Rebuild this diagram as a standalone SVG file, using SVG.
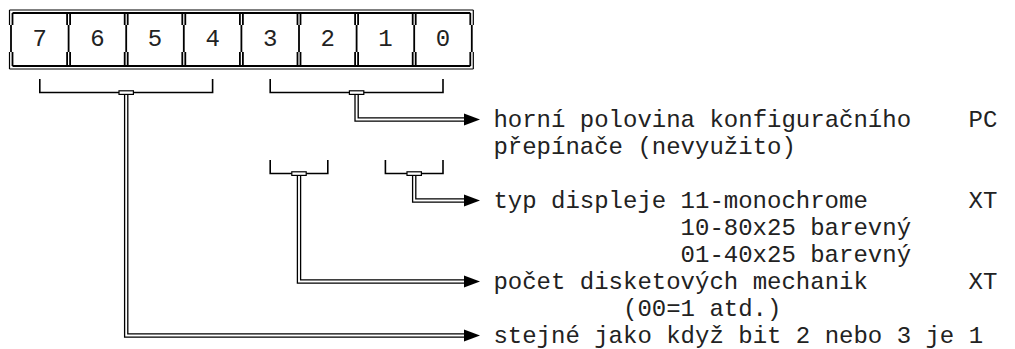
<svg xmlns="http://www.w3.org/2000/svg" width="1015" height="349" viewBox="0 0 1015 349">
<style>
.o{stroke:#000;stroke-width:1.2;fill:none}
.i{stroke:#000;stroke-width:1.8;fill:none}
.s{stroke:#000;stroke-width:1.6;fill:none}
.d{stroke:#000;stroke-width:1.3;fill:none}
.bar{stroke:#000;stroke-width:1.2;fill:#fff}
.ah{fill:#000}
.t{font-family:"Liberation Mono","Courier New",monospace;font-size:24px;fill:#222}
.c{text-anchor:middle}
</style>
<rect width="1015" height="349" fill="#fff"/>
<g id="register">
<path class="o" d="M9.5,10H473.3M9.5,69H473.3M9.5,10V25M9.5,52V69M473.3,10V25M473.3,52V69"/>
<path class="i" d="M12.5,13H470.3M12.5,66H470.3M12.5,13V25M12.5,52V66M470.3,13V25M470.3,52V66M11,25V52M471.8,25V52"/>
<path class="i" d="M67.1,13V25M70.1,13V25M68.6,25V52M67.1,52V66M70.1,52V66
M124.7,13V25M127.7,13V25M126.2,25V52M124.7,52V66M127.7,52V66
M182.3,13V25M185.3,13V25M183.8,25V52M182.3,52V66M185.3,52V66
M239.9,13V25M242.9,13V25M241.4,25V52M239.9,52V66M242.9,52V66
M297.5,13V25M300.5,13V25M299,25V52M297.5,52V66M300.5,52V66
M355.1,13V25M358.1,13V25M356.6,25V52M355.1,52V66M358.1,52V66
M412.7,13V25M415.7,13V25M414.2,25V52M412.7,52V66M415.7,52V66"/>
<text class="t c" x="39.8" y="46">7</text>
<text class="t c" x="97.4" y="46">6</text>
<text class="t c" x="155" y="46">5</text>
<text class="t c" x="212.6" y="46">4</text>
<text class="t c" x="270.2" y="46">3</text>
<text class="t c" x="327.8" y="46">2</text>
<text class="t c" x="385.4" y="46">1</text>
<text class="t c" x="443" y="46">0</text>
</g>
<g id="connectors">
<path class="s" d="M39.8,79V92.5H212.6V79M270.2,79V92.5H443V79M270.2,160V173.5H327.8V160M385.4,160V173.5H443V160"/>
<rect class="bar" x="119" y="90.8" width="14.4" height="3.6"/>
<rect class="bar" x="349.4" y="90.8" width="14.4" height="3.6"/>
<rect class="bar" x="291.8" y="171.8" width="14.4" height="3.6"/>
<rect class="bar" x="407" y="171.8" width="14.4" height="3.6"/>
<path class="d" d="M124.6,94.4V337.1H465M127.8,94.4V333.9H465"/>
<path class="d" d="M355,94.4V121.1H465M358.2,94.4V117.9H465"/>
<path class="d" d="M297.4,175.4V283.1H465M300.6,175.4V279.9H465"/>
<path class="d" d="M412.6,175.4V202.1H465M415.8,175.4V198.9H465"/>
<polygon class="ah" points="464,113.5 480,119.5 464,125.5"/>
<polygon class="ah" points="464,194.5 480,200.5 464,206.5"/>
<polygon class="ah" points="464,275.5 480,281.5 464,287.5"/>
<polygon class="ah" points="464,329.5 480,335.5 464,341.5"/>
</g>
<g id="labels">
<text class="t" x="493.4" y="126.5">horní polovina konfiguračního</text>
<text class="t" x="968.6" y="126.5">PC</text>
<text class="t" x="493.4" y="153.5">přepínače (nevyužito)</text>
<text class="t" x="493.4" y="207.5">typ displeje</text>
<text class="t" x="680.6" y="207.5">11-monochrome</text>
<text class="t" x="968.6" y="207.5">XT</text>
<text class="t" x="680.6" y="234.5">10-80x25 barevný</text>
<text class="t" x="680.6" y="261.5">01-40x25 barevný</text>
<text class="t" x="493.4" y="288.5">počet disketových mechanik</text>
<text class="t" x="968.6" y="288.5">XT</text>
<text class="t" x="623" y="315.5">(00=1 atd.)</text>
<text class="t" x="493.4" y="342.5">stejné jako když bit 2 nebo 3 je 1</text>
</g>
</svg>
